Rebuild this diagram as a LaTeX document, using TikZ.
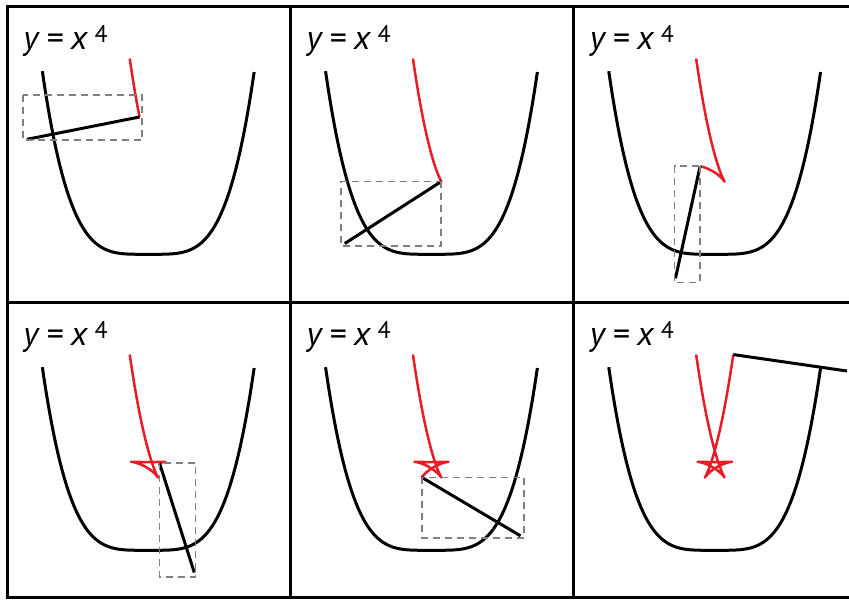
\documentclass[tikz,border=0pt]{standalone}
\usepackage{fontspec}
\setmainfont{PT Sans}
\usepackage{tikz}
\usetikzlibrary{calc}

\definecolor{evored}{RGB}{232,28,36}

\begin{document}
\begin{tikzpicture}[
  x=0.5pt, y=0.5pt,
  declare function={
    sq(\t)=(\t)*(\t);
    den(\t)=sqrt(1+16*sq(\t)*sq(\t)*sq(\t));
    ox(\t)=(\t)-4*(\t)*sq(\t)/den(\t);
    oy(\t)=sq(\t)*sq(\t)+1/den(\t);
  },
  frame/.style={draw=black, line width=1.5pt},
  quartic/.style={draw=black, line width=1.5pt, line join=round},
  evo/.style={draw=evored, line width=1.25pt, line join=round},
  normal/.style={draw=black, line width=1.5pt},
  box/.style={draw=gray, line width=0.85pt, dash pattern=on 3.5pt off 2.5pt},
  lab/.style={anchor=base west, inner sep=0pt, font=\fontsize{17}{20}\selectfont},
]
  \useasboundingbox (0,0) rectangle (849,600);
  \clip (0,0) rectangle (849,600);
  % panels: curve, offset curve traced so far, normal segment
  \foreach \cc/\rr/\tp/\nm in {0/0/-1.08/a, 1/0/-0.73/b, 2/0/-0.38/c,
                                0/1/0.43/d, 1/1/0.75/e, 2/1/1.2/f} {
    \begin{scope}[shift={(148.3+283.2*\cc, 345.7-296*\rr)}, x=44.15pt, y=44.15pt]
      \draw[quartic] plot[domain=-1.2:1.2, samples=121] (\x, {sq(\x)*sq(\x)});
      \draw[evo] plot[domain=-1.2:\tp, samples=240] ({ox(\x)}, {oy(\x)});
      \coordinate (c-\nm) at ({ox(\tp)}, {oy(\tp)});
      \coordinate (e-\nm) at ({(\tp)+1.2*(\tp)*sq(\tp)/den(\tp)}, {sq(\tp)*sq(\tp)-0.3/den(\tp)});
      \coordinate (r-\nm) at ({(\tp)+1.4*(\tp)*sq(\tp)/den(\tp)}, {sq(\tp)*sq(\tp)-0.35/den(\tp)});
      \draw[normal] (c-\nm) -- (e-\nm);
    \end{scope}
    \node[lab] (lab-\nm) at (23+283.2*\cc, 550.7-296*\rr)
      {\textit{y}\hspace{3.4pt}=\hspace{3.4pt}\textit{x}\hspace{3.2pt}\raisebox{3.6pt}{\fontsize{12}{13}\selectfont 4}};
  }
  % dashed boxes
  \draw[box] (22.7,505) rectangle (142.3,460);
  \draw[box] (c-b) rectangle (r-b);
  \draw[box] (c-c) rectangle (r-c);
  \draw[box] (c-d) rectangle (r-d);
  \draw[box] (c-e) rectangle (r-e);
  % grid
  \draw[frame] (7,2.5) rectangle (856.6,593.5);
  \draw[frame] (290.2,2.5) -- (290.2,593.5);
  \draw[frame] (573.4,2.5) -- (573.4,593.5);
  \draw[frame] (7,298) -- (856.6,298);
\end{tikzpicture}
\end{document}
